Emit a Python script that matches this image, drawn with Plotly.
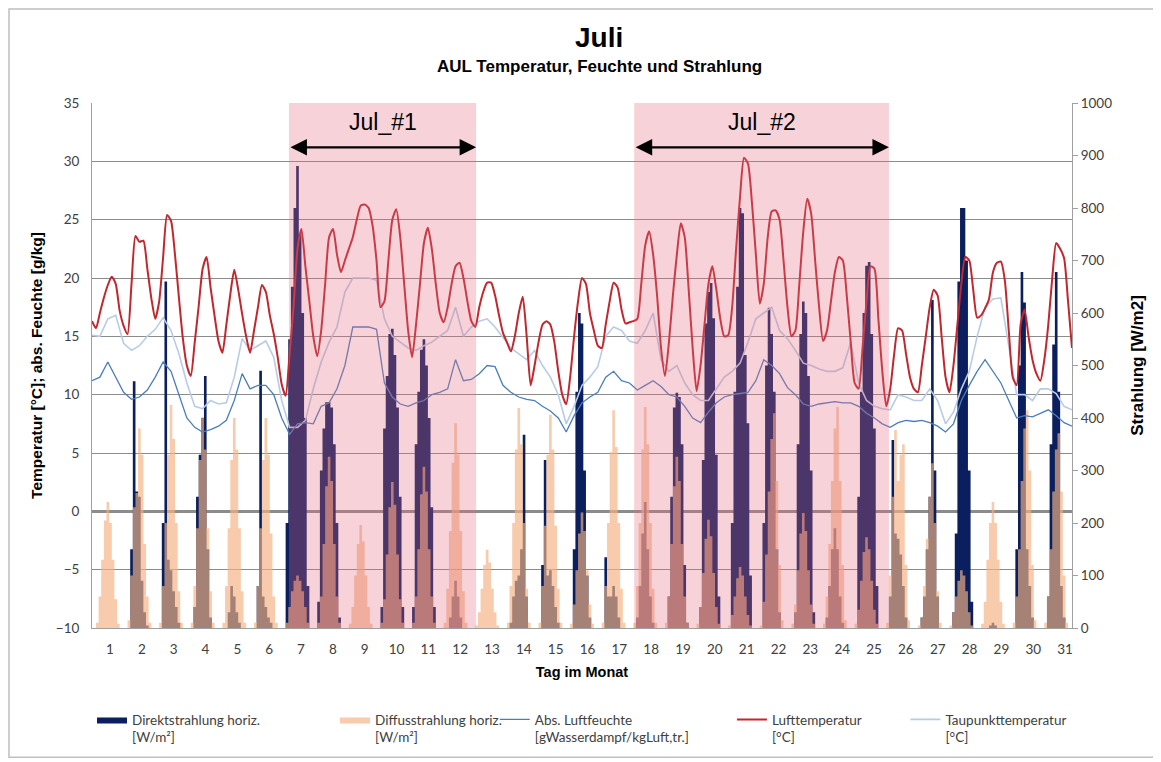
import numpy as np
import plotly.graph_objects as go

# ---------------- data ----------------
days = list(range(1, 32))
day_labels = [str(d) for d in days]

# Lufttemperatur [°C], every 3 hours from 1 Jul 00:00
temp_3h = [
    16.3, 15.7, 17.0, 18.3, 19.4, 20.1, 19.5, 17.2,
    15.9, 15.2, 19.5, 23.6, 23.1, 23.2, 20.8, 18.3,
    16.5, 18.0, 21.8, 25.4, 24.9, 22.0, 18.3, 14.8,
    12.5, 11.6, 14.5, 17.6, 20.8, 21.8, 19.2, 16.8,
    14.6, 13.6, 16.0, 18.6, 20.7, 19.0, 16.9, 15.0,
    13.6, 15.5, 17.5, 19.4, 18.8, 16.8, 15.2, 13.2,
    10.9, 9.9, 13.5, 17.5, 22.5, 24.2, 21.0, 18.0,
    15.0, 13.3, 15.5, 19.5, 23.5, 24.2, 22.0, 20.5,
    21.5, 22.5, 23.5, 25.0, 26.2, 26.3, 26.0, 24.5,
    21.5, 17.5, 18.0, 21.5, 25.0, 25.9, 23.5, 19.5,
    15.5, 13.2, 16.0, 19.5, 23.0, 24.3, 22.5, 19.5,
    17.0, 16.2, 17.5, 19.5, 21.0, 21.3, 20.0, 18.0,
    16.3, 15.8, 17.5, 18.8, 19.6, 19.6, 18.5, 16.8,
    15.3, 14.5, 13.7, 15.0, 17.0, 18.4, 15.0, 10.8,
    12.5, 14.5, 16.0, 16.3, 16.0, 14.5, 12.0, 10.0,
    9.2, 11.5, 15.0, 18.0, 20.0, 19.5, 17.0, 15.5,
    14.2, 14.0, 16.0, 18.0, 19.6, 19.2, 17.3, 16.1,
    16.2, 16.3, 16.5, 19.5, 22.8, 24.0, 22.0, 18.5,
    14.0, 11.6, 14.5, 18.5, 22.0, 24.7, 23.5, 19.0,
    14.0, 10.3, 12.5, 16.0, 19.5, 21.0, 19.0, 16.5,
    15.0, 15.1, 17.5, 22.5, 27.0, 30.3, 29.8, 26.5,
    22.0, 17.8, 19.5, 23.5, 25.7, 25.8, 25.0, 21.5,
    17.5, 15.0, 15.5, 19.5, 24.0, 26.8, 25.5, 21.5,
    17.5, 14.6, 15.5, 18.0, 20.5, 21.8, 21.5, 18.5,
    14.5, 11.0, 10.5, 14.0, 18.0, 21.0, 20.8, 16.5,
    12.0, 9.0, 10.5, 13.5, 15.7, 15.5, 13.5, 11.5,
    10.5, 10.2, 12.5, 15.0, 17.5, 19.0, 18.5, 15.0,
    11.5, 10.2, 12.5, 16.0, 19.5, 21.8, 21.5, 19.0,
    16.6, 16.8, 17.4, 18.2, 20.5, 21.3, 21.4, 19.8,
    15.5, 11.5, 10.8, 16.0, 17.3, 15.0, 13.0, 11.8,
    11.2, 13.0, 16.0, 20.0, 23.0, 22.5, 21.7, 18.0, 14.0,
]

# Taupunkttemperatur [°C], every 6 hours
dewpoint_6h = [
    15.1, 15.0, 16.5, 16.8, 14.4, 13.8, 14.2, 15.0,
    15.6, 16.6, 15.5, 13.5, 11.0, 9.0, 8.8, 9.5,
    9.2, 9.3, 11.5, 14.8, 13.8, 14.2, 14.6, 13.2,
    9.5, 7.2, 7.2, 7.8, 10.5, 12.8, 14.5, 15.8,
    18.8, 20.0, 20.0, 20.0, 19.8, 16.5, 15.0, 14.5,
    14.0, 13.8, 14.2, 14.5, 15.0, 15.5, 17.5, 15.0,
    15.8, 16.3, 16.5, 15.8, 14.9, 14.0, 13.5, 13.0,
    13.8, 12.5, 11.5, 10.0, 7.5, 9.0, 10.8, 11.5,
    12.4, 15.0, 15.8, 15.5, 14.6, 14.4, 15.5, 17.0,
    13.0, 12.0, 12.5, 11.0, 10.0, 9.5, 9.5, 10.5,
    11.5, 12.0, 12.7, 14.5, 16.5, 17.0, 17.5, 15.5,
    14.8, 13.8, 12.7, 12.5, 12.2, 12.0, 12.0, 12.3,
    14.5, 11.0, 9.5, 9.0, 8.8, 8.7, 10.0, 9.8,
    9.5, 9.5, 10.5, 9.5, 7.5, 8.5, 10.5, 12.0,
    15.0, 17.5, 18.2, 18.3, 14.0, 10.0, 10.0, 9.5,
    10.5, 10.5, 10.1, 9.0, 8.7,
]

# Abs. Luftfeuchte [g/kg], every 6 hours
abs_hum_6h = [
    11.2, 11.5, 12.8, 11.5, 10.2, 9.6, 9.8, 10.4,
    11.5, 12.8, 12.0, 10.0, 8.0, 7.2, 6.8, 7.0,
    7.3, 7.8, 9.5, 11.8, 10.5, 10.8, 10.8, 10.0,
    8.0, 6.6, 7.5, 7.6, 7.5, 9.0, 9.3, 10.5,
    12.5, 15.8, 15.8, 15.8, 15.6, 11.0, 9.8, 9.2,
    9.0, 9.3, 9.5, 10.0, 10.2, 10.5, 13.0, 11.2,
    11.3, 11.8, 12.5, 12.4, 10.8, 10.2, 9.8, 9.6,
    9.5, 9.0, 8.6, 8.0, 6.8, 8.2, 9.3, 9.8,
    10.2, 11.5, 12.0, 11.2, 11.0, 10.4, 10.8, 11.2,
    10.7, 10.0, 9.8, 9.0, 8.0, 7.6, 8.5, 9.3,
    9.8, 10.0, 10.1, 10.2, 11.2, 13.0, 12.5, 11.8,
    10.6, 10.0, 9.2, 9.0, 9.2, 9.3, 9.4, 9.3,
    9.3, 9.0, 8.4, 8.0, 7.5, 7.2, 7.6, 7.8,
    7.7, 7.8, 7.6, 7.3, 6.8, 7.5, 9.5, 10.8,
    12.0, 13.0, 12.0, 11.0, 9.5, 8.0, 8.2, 8.1,
    8.4, 8.7, 8.2, 7.6, 7.3,
]

# radiation: 2-hour bins centred on these hours, one row per day (night = 0)
bar_hours = [4, 6, 8, 10, 12, 14, 16, 18, 20]

direct_wm2 = [
    [0, 0, 0, 0, 0, 0, 0, 0, 0],
    [0, 150, 470, 260, 250, 90, 30, 5, 0],
    [0, 200, 660, 130, 110, 70, 40, 10, 0],
    [0, 40, 250, 330, 400, 480, 150, 20, 0],
    [0, 0, 30, 80, 60, 30, 10, 0, 0],
    [0, 80, 490, 60, 40, 20, 10, 0, 0],
    [200, 550, 650, 800, 880, 750, 600, 400, 80],
    [50, 300, 380, 430, 430, 420, 350, 200, 20],
    [0, 0, 0, 0, 0, 0, 0, 0, 0],
    [40, 380, 480, 560, 570, 520, 420, 250, 40],
    [40, 350, 450, 530, 550, 500, 400, 230, 40],
    [0, 0, 20, 60, 90, 60, 20, 0, 0],
    [0, 0, 0, 0, 0, 0, 0, 0, 0],
    [0, 10, 60, 90, 100, 150, 368, 60, 0],
    [0, 120, 320, 100, 110, 80, 40, 10, 0],
    [0, 150, 450, 600, 580, 300, 100, 20, 0],
    [0, 135, 60, 60, 80, 60, 20, 0, 0],
    [0, 20, 80, 180, 240, 150, 60, 10, 0],
    [0, 60, 250, 420, 448, 440, 350, 120, 10],
    [0, 40, 320, 580, 640, 657, 590, 330, 60],
    [0, 200, 450, 650, 800, 790, 520, 390, 100],
    [0, 200, 500, 610, 560, 450, 150, 30, 0],
    [0, 30, 350, 560, 622, 600, 480, 300, 30],
    [0, 20, 80, 150, 190, 150, 60, 10, 0],
    [0, 250, 450, 600, 690, 697, 560, 380, 80],
    [0, 60, 358, 180, 170, 140, 80, 20, 0],
    [0, 20, 60, 150, 250, 625, 300, 60, 0],
    [0, 30, 180, 660, 800, 800, 700, 300, 50],
    [0, 0, 0, 5, 10, 5, 0, 0, 0],
    [0, 150, 500, 678, 620, 150, 80, 20, 0],
    [0, 60, 350, 540, 678, 450, 80, 20, 0],
]

diffuse_wm2 = [
    [10, 60, 130, 205, 240, 200, 130, 55, 8],
    [15, 100, 230, 257, 380, 330, 160, 60, 10],
    [10, 80, 200, 330, 425, 360, 200, 70, 10],
    [10, 80, 190, 320, 402, 340, 190, 70, 10],
    [10, 80, 190, 320, 400, 340, 190, 70, 10],
    [10, 80, 190, 320, 400, 330, 180, 60, 10],
    [10, 40, 70, 90, 100, 90, 70, 40, 10],
    [10, 60, 160, 270, 326, 280, 160, 60, 10],
    [8, 40, 100, 160, 196, 165, 100, 40, 8],
    [10, 55, 140, 230, 278, 235, 140, 55, 10],
    [10, 60, 150, 255, 307, 260, 150, 60, 10],
    [10, 75, 185, 315, 390, 330, 185, 70, 10],
    [5, 30, 75, 120, 149, 125, 75, 30, 5],
    [10, 80, 200, 340, 419, 350, 200, 75, 10],
    [10, 80, 195, 330, 406, 340, 195, 75, 10],
    [8, 45, 110, 180, 220, 185, 110, 45, 8],
    [10, 80, 200, 335, 415, 345, 200, 75, 10],
    [10, 80, 200, 340, 421, 350, 200, 75, 10],
    [10, 60, 160, 270, 326, 280, 160, 60, 10],
    [8, 40, 105, 170, 206, 175, 105, 40, 8],
    [5, 25, 60, 95, 116, 100, 60, 25, 5],
    [5, 50, 140, 260, 360, 409, 280, 120, 15],
    [8, 45, 110, 180, 219, 185, 110, 45, 8],
    [8, 60, 160, 280, 380, 421, 280, 120, 15],
    [8, 35, 90, 145, 173, 150, 90, 35, 8],
    [10, 100, 250, 377, 280, 330, 350, 120, 15],
    [5, 20, 80, 170, 250, 314, 200, 70, 10],
    [5, 30, 60, 90, 110, 100, 70, 30, 5],
    [8, 50, 130, 200, 240, 200, 130, 50, 8],
    [10, 60, 150, 280, 380, 415, 300, 120, 15],
    [10, 60, 150, 260, 340, 371, 260, 100, 10],
]

# measurement periods (in days since 1 Jul 00:00)
periods = [("Jul_#1", 6.23, 12.15), ("Jul_#2", 17.15, 25.21)]

# ---------------- build x positions (days since start of month) ----------------
x_temp = np.arange(len(temp_3h)) * 3 / 24
x_hum = np.arange(len(abs_hum_6h)) * 6 / 24


def step_series(rows):
    """2 h radiation bins -> step outline (value holds for the bin, 0 at night)"""
    xs, ys = [], []
    for d, row in zip(days, rows):
        for h, v in zip(bar_hours, row):
            xs.append((d - 1) + (h - 1) / 24)
            ys.append(v)
        xs.append((d - 1) + (bar_hours[-1] + 1) / 24)
        ys.append(0)
    return xs, ys


x_dir, y_dir = step_series(direct_wm2)
x_dif, y_dif = step_series(diffuse_wm2)

fig = go.Figure()

fig.add_trace(go.Scatter(
    x=x_dir, y=y_dir, yaxis="y", mode="lines",
    line=dict(shape="hv", width=0, color="#0B1F5E", simplify=False),
    fill="tozeroy", fillcolor="#0B1F5E",
    name="Direktstrahlung horiz.<br>[W/m²]", legend="legend",
))
fig.add_trace(go.Scatter(
    x=x_dif, y=y_dif, yaxis="y", mode="lines",
    line=dict(shape="hv", width=0, color="rgba(243,178,129,0.67)", simplify=False),
    fill="tozeroy", fillcolor="rgba(243,178,129,0.67)",
    name="Diffusstrahlung horiz.<br>[W/m²]", legend="legend2",
))
fig.add_trace(go.Scatter(
    x=x_hum, y=dewpoint_6h, yaxis="y2", mode="lines",
    line=dict(color="#B8CCE4", width=1.6),
    name="Taupunkttemperatur<br>[°C]", legend="legend5",
))
fig.add_trace(go.Scatter(
    x=x_hum, y=abs_hum_6h, yaxis="y2", mode="lines",
    line=dict(color="#4A7EBB", width=1.3),
    name="Abs. Luftfeuchte<br>[gWasserdampf/kgLuft,tr.]", legend="legend3",
))
fig.add_trace(go.Scatter(
    x=x_temp, y=temp_3h, yaxis="y2", mode="lines",
    line=dict(color="#C1272D", width=2, shape="spline", smoothing=0.6),
    name="Lufttemperatur<br>[°C]", legend="legend4",
))

shapes = []
annotations = []
for label, x0, x1 in periods:
    shapes.append(dict(type="rect", xref="x", yref="paper", x0=x0, x1=x1, y0=0, y1=1,
                       fillcolor="rgba(228,106,130,0.30)", line=dict(width=0), layer="above"))
    annotations.append(dict(xref="x", yref="y2", x=x1, y=31.2, ax=x0, ay=31.2,
                            axref="x", ayref="y2", text="", showarrow=True,
                            arrowside="end+start", arrowhead=2, arrowsize=1.5,
                            arrowwidth=2.2, arrowcolor="black"))
    annotations.append(dict(xref="x", yref="y2", x=(x0 + x1) / 2, y=33.4, text=label,
                            showarrow=False, yanchor="middle",
                            font=dict(family="Liberation Sans, Arial", size=23, color="black")))

# outer chart frame
shapes.append(dict(type="rect", xref="paper", yref="paper", x0=-0.0847, x1=1.088, y0=-0.246, y1=1.179,
                   line=dict(color="#BFBFBF", width=1.5), layer="below"))

annotations.append(dict(xref="paper", yref="paper", x=0.517, y=1.124, yanchor="middle",
                        text="<b>Juli</b>", showarrow=False,
                        font=dict(family="Liberation Sans, Arial", size=28, color="black")))
annotations.append(dict(xref="paper", yref="paper", x=0.518, y=1.0686, yanchor="middle",
                        text="<b>AUL Temperatur, Feuchte und Strahlung</b>", showarrow=False,
                        font=dict(family="Liberation Sans, Arial", size=17, color="black")))

tick_font = dict(family="Lato, Noto Sans, sans-serif", size=13.5, color="#404040")

legend_common = dict(orientation="v", yanchor="top", y=-0.145, xanchor="left",
                     font=dict(family="Lato, Noto Sans, sans-serif", size=13.5, color="#404040"),
                     bgcolor="rgba(0,0,0,0)", valign="top", itemwidth=30)
legends = {}
for key, xpos in zip(["legend", "legend2", "legend3", "legend4", "legend5"],
                     [0.0, 0.248, 0.411, 0.653, 0.83]):
    legends[key] = dict(legend_common, x=xpos)

# page body adds an 8 px offset, margins compensate so the plot area sits at 92..1072 / 103..628
fig.update_layout(
    width=1161, height=762, autosize=False,
    margin=dict(l=84, r=97, t=95, b=142),
    paper_bgcolor="white", plot_bgcolor="white",
    showlegend=True,
    xaxis=dict(range=[0, 31], tickmode="array",
               tickvals=list(np.linspace(0.57, 30.78, 31)), ticktext=day_labels,
               showgrid=False, zeroline=False, showline=True, linecolor="#A0A0A0", linewidth=1,
               ticks="outside", ticklen=9, tickcolor="rgba(0,0,0,0)", tickfont=tick_font,
               title=dict(text="<b>Tag im Monat</b>",
                          font=dict(family="Liberation Sans, Arial", size=14.5, color="black"), standoff=10)),
    yaxis=dict(range=[0, 1000], dtick=100, side="right", showgrid=False, zeroline=False,
               showline=True, linecolor="#A0A0A0", ticks="outside", ticklen=5, tickcolor="#A0A0A0",
               tickfont=tick_font,
               title=dict(text="<b>Strahlung [W/m2]</b>",
                          font=dict(family="Liberation Sans, Arial", size=17, color="black"), standoff=19)),
    yaxis2=dict(range=[-10, 35], dtick=5, side="left", overlaying="y",
                showgrid=True, gridcolor="#8C8C8C", gridwidth=1,
                zeroline=True, zerolinecolor="#8C8C8C", zerolinewidth=2.5,
                showline=True, linecolor="#A0A0A0",
                ticks="outside", ticklen=9, tickcolor="rgba(0,0,0,0)", tickfont=tick_font,
                title=dict(text="<b>Temperatur [°C]; abs. Feuchte [g/kg]</b>",
                           font=dict(family="Liberation Sans, Arial", size=15.5, color="black"), standoff=9)),
    shapes=shapes,
    annotations=annotations,
    **legends,
)

fig.write_html("out.html")
